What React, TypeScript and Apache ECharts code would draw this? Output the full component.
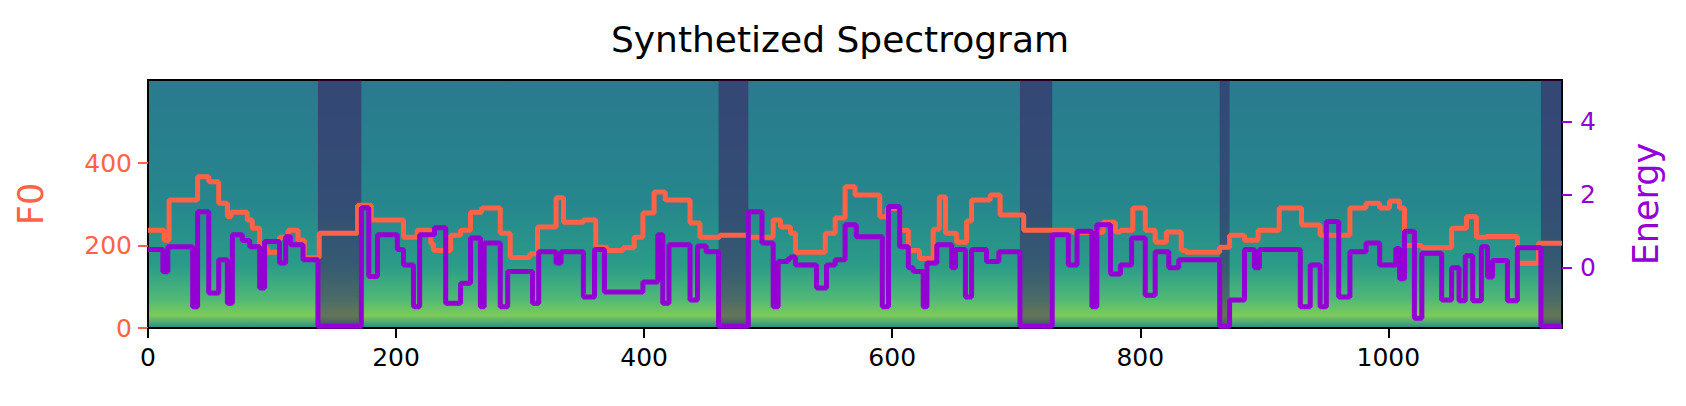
import React, { useEffect, useRef } from "react";
import * as echarts from "echarts";

const xTicks = [0, 200, 400, 600, 800, 1000];
const f0Ticks = [0, 200, 400];
const energyTicks = [0, 2, 4];
const xMax = 1140;

// [frame, F0] step starts
const f0Steps: [number, number][] = [
  [0, 237], [13, 213], [17, 311], [40, 367], [49, 355], [57, 303], [64, 270], [67, 281], [80, 262], [84, 242],
  [90, 196], [96, 184], [106, 220], [113, 237], [121, 213], [126, 171], [138, 230], [169, 298], [180, 262],
  [206, 220], [217, 237], [228, 205], [230, 188], [244, 225], [252, 237], [260, 281], [269, 291], [284, 230],
  [292, 171], [308, 180], [314, 245], [329, 316], [335, 257], [351, 262], [361, 196], [370, 188], [383, 195],
  [392, 220], [399, 279], [408, 330], [417, 311], [437, 255], [445, 220], [461, 225], [483, 220], [504, 262],
  [510, 245], [518, 230], [522, 184], [546, 230], [554, 267], [562, 343], [570, 323], [590, 270], [596, 290],
  [606, 237], [613, 188], [622, 169], [633, 240], [638, 318], [643, 230], [652, 208], [660, 260], [664, 311],
  [679, 323], [687, 274], [706, 237], [746, 232], [770, 257], [780, 233], [784, 237], [794, 291], [804, 237],
  [812, 208], [821, 233], [833, 188], [837, 184], [864, 196], [872, 225], [884, 213], [895, 237], [912, 291],
  [930, 250], [945, 225], [969, 291], [982, 303], [993, 291], [1001, 308], [1009, 291], [1013, 200], [1027, 195],
  [1051, 242], [1063, 270], [1071, 220], [1079, 222], [1104, 157], [1121, 206], [1140, 206],
];

// [frame, energy] step starts
const energySteps: [number, number][] = [
  [0, 0.5], [12, -0.11], [16, 0.58], [36, -1.07], [40, 1.54], [49, -0.69], [57, 0.22], [64, -0.97], [68, 0.91],
  [76, 0.75], [82, 0.58], [90, -0.55], [94, 0.72], [106, 0.13], [111, 0.85], [115, 0.63], [125, 0.22],
  [137, -1.6], [172, 1.65], [178, -0.24], [185, 0.91], [201, 0.5], [206, 0.08], [214, -1.07], [219, 0.91],
  [231, 1.1], [240, -0.97], [252, -0.42], [260, 0.82], [268, -1.07], [271, 0.68], [284, -1.07], [290, -0.1],
  [310, -0.97], [315, 0.44], [329, 0.13], [333, 0.44], [351, -0.8], [360, 0.5], [368, -0.66], [399, -0.39],
  [411, 0.91], [415, -0.97], [420, 0.63], [437, -0.88], [443, 0.6], [450, 0.44], [460, -1.6], [484, 1.54],
  [495, 0.68], [504, -1.07], [508, 0.17], [516, 0.25], [518, 0.3], [522, 0.08], [539, -0.55], [547, 0.08],
  [554, 0.22], [562, 1.18], [571, 0.85], [592, -1.07], [597, 1.68], [606, 0.58], [613, 0.0], [617, -0.1],
  [625, -1.07], [628, 0.13], [636, 0.63], [648, 0.0], [651, 0.5], [659, -0.8], [664, 0.5], [676, 0.17],
  [686, 0.44], [703, -1.6], [729, 0.91], [742, 0.08], [749, 1.0], [761, -1.07], [765, 1.18], [776, -0.17],
  [784, 0.08], [793, 0.82], [804, -0.75], [812, 0.44], [823, 0.0], [831, 0.22], [864, -1.6], [872, -0.88],
  [884, 0.5], [892, 0.0], [896, 0.5], [929, -1.07], [937, 0.08], [945, -1.07], [950, 1.27], [960, -0.8],
  [969, 0.44], [982, 0.68], [993, 0.08], [1006, 0.53], [1009, -0.3], [1013, 1.0], [1021, -1.38], [1027, 0.4],
  [1043, -0.88], [1051, 0.0], [1057, -0.9], [1062, 0.33], [1068, -0.9], [1075, 0.58], [1080, -0.25],
  [1084, 0.2], [1096, -0.9], [1104, 0.55], [1123, -1.6], [1140, -1.6],
];

// silent frames (dark columns in the spectrogram)
const silenceRegions: [number, number][] = [[137, 172], [460, 484], [703, 729], [864, 872], [1123, 1140]];

const ORANGE = "#ff6347";
const PURPLE = "#9400d3";
const FONT = "DejaVu Sans";

export default function App() {
  const ref = useRef<HTMLDivElement>(null);
  useEffect(() => {
    if (!ref.current) return;
    const chart = echarts.init(ref.current, null, { renderer: "svg" });
    chart.setOption({
      animation: false,
      backgroundColor: "#ffffff",
      title: {
        text: "Synthetized Spectrogram",
        left: 835,
        top: 16,
        textAlign: "center",
        textStyle: { fontFamily: FONT, fontSize: 36, fontWeight: "normal", color: "#000" },
      },
      grid: {
        left: 148, right: 124, top: 80, bottom: 78,
        show: true,
        borderColor: "#000",
        borderWidth: 2,
        backgroundColor: new echarts.graphic.LinearGradient(0, 0, 0, 1, [
          { offset: 0, color: "#2a7a8e" },
          { offset: 0.5, color: "#26868d" },
          { offset: 0.75, color: "#2b9c88" },
          { offset: 0.88, color: "#4fb877" },
          { offset: 0.95, color: "#7ccb5a" },
          { offset: 1, color: "#2a8a8b" },
        ]),
      },
      xAxis: {
        type: "value", min: 0, max: xMax,
        axisLine: { show: true, lineStyle: { color: "#000", width: 2 } },
        axisTick: { show: true, length: 10, lineStyle: { color: "#000", width: 2 }, customValues: xTicks },
        axisLabel: {
          customValues: xTicks, fontFamily: FONT, fontSize: 25, color: "#000", margin: 17,
          formatter: (v: number) => String(v),
        },
        splitLine: { show: false },
      },
      yAxis: [
        {
          type: "value", min: 0, max: 602, position: "left",
          name: "F0", nameLocation: "middle", nameGap: 100, nameRotate: 90,
          nameTextStyle: { fontFamily: FONT, fontSize: 35, color: ORANGE },
          axisLine: { show: true, lineStyle: { color: "#000", width: 2 } },
          axisTick: { show: true, length: 10, lineStyle: { color: ORANGE, width: 2 }, customValues: f0Ticks },
          axisLabel: { customValues: f0Ticks, fontFamily: FONT, fontSize: 25, color: ORANGE, margin: 16 },
          splitLine: { show: false },
        },
        {
          type: "value", min: -1.65, max: 5.15, position: "right",
          name: "Energy", nameLocation: "middle", nameGap: 66, nameRotate: 90,
          nameTextStyle: { fontFamily: FONT, fontSize: 35, color: PURPLE },
          axisLine: { show: true, lineStyle: { color: "#000", width: 2 } },
          axisTick: { show: true, length: 10, lineStyle: { color: PURPLE, width: 2 }, customValues: energyTicks },
          axisLabel: { customValues: energyTicks, fontFamily: FONT, fontSize: 25, color: PURPLE, margin: 18 },
          splitLine: { show: false },
        },
      ],
      series: [
        {
          type: "line", yAxisIndex: 0, step: "end", data: f0Steps, showSymbol: false,
          lineStyle: { color: ORANGE, width: 5 }, z: 3,
          markArea: {
            silent: true,
            itemStyle: { color: "rgba(68,1,84,0.42)" },
            data: silenceRegions.map(([a, b]) => [{ xAxis: a }, { xAxis: b }]),
          },
        },
        {
          type: "line", yAxisIndex: 1, step: "end", data: energySteps, showSymbol: false,
          lineStyle: { color: PURPLE, width: 5 }, z: 4,
        },
      ],
    });
    return () => chart.dispose();
  }, []);
  return <div ref={ref} style={{ position: "fixed", left: 0, top: 0, width: 1686, height: 406 }} />;
}
